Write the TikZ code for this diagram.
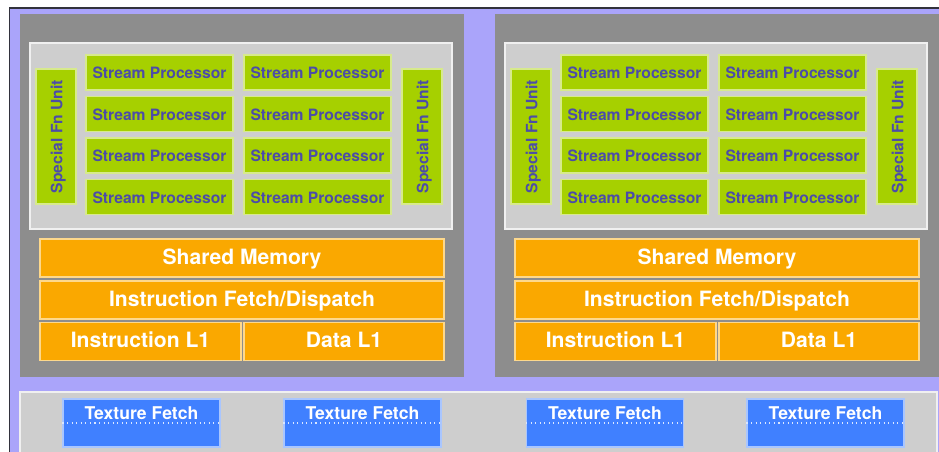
\documentclass[tikz,border=0pt]{standalone}
\usepackage{fontspec}
\setmainfont{TeX Gyre Heros}
\usepackage{xcolor}
\usepackage{tikz}
\usetikzlibrary{positioning}
\definecolor{chipbg}{RGB}{170,164,250}
\definecolor{chipframe}{RGB}{50,50,60}
\definecolor{smgray}{RGB}{141,141,141}
\definecolor{coregray}{RGB}{206,206,206}
\definecolor{spgreen}{RGB}{166,208,0}
\definecolor{sptext}{RGB}{76,76,168}
\definecolor{memorange}{RGB}{250,168,0}
\definecolor{fetchblue}{RGB}{64,128,255}
\tikzset{
  smpanel/.style={fill=smgray,minimum width=8.88cm,minimum height=7.26cm,inner sep=0pt},
  corepanel/.style={fill=coregray,draw=white!70!coregray,line width=0.6pt,minimum width=8.44cm,minimum height=3.72cm,inner sep=0pt},
  spbox/.style={draw=white!55!spgreen,fill=spgreen,line width=0.6pt,text=sptext,font=\bfseries\fontsize{8.9}{10}\selectfont,
    minimum width=2.94cm,minimum height=0.70cm,inner sep=0pt,text height=1.5ex,text depth=0.1ex},
  sfubox/.style={spbox,rotate=90,minimum width=2.70cm,minimum height=0.80cm},
  membox/.style={draw=white!55!memorange,fill=memorange,line width=0.6pt,text=white,font=\bfseries\fontsize{12}{14}\selectfont,
    minimum height=0.76cm,inner sep=0pt,text height=1.5ex,text depth=0.1ex},
  fetchbox/.style={draw=white!55!fetchblue,fill=fetchblue,line width=0.6pt,text=white,font=\bfseries\fontsize{10}{12}\selectfont,
    minimum width=3.14cm,minimum height=0.96cm,inner sep=2pt,text height=7.5pt,text depth=12pt},
  fetchsplit/.style={draw=white!80!fetchblue,dotted,line width=0.6pt},
}
\begin{document}
\begin{tikzpicture}
  \useasboundingbox (0,0) rectangle (18.78,-9.04);
  % chip background and frame
  \fill[chipbg] (0.19,-0.16) rectangle (18.78,-9.04);
  \draw[chipframe,line width=1.1pt] (0.19,-9.04) -- (0.19,-0.16) -- (18.78,-0.16);
  % left multiprocessor
  \node[smpanel]   (sm1)     at (4.84,-3.91) {};
  \node[corepanel] (core1)   at (4.82,-2.72) {};
  \node[sfubox]    (sfu1a)   at (1.12,-2.73) {Special Fn Unit};
  \node[sfubox]    (sfu1b)   at (8.44,-2.73) {Special Fn Unit};
  \node[spbox]     (sp1a)    at (3.19,-1.45) {Stream Processor};
  \node[spbox]     (sp1b)    at (6.35,-1.45) {Stream Processor};
  \node[spbox]     (sp1c)    at (3.19,-2.28) {Stream Processor};
  \node[spbox]     (sp1d)    at (6.35,-2.28) {Stream Processor};
  \node[spbox]     (sp1e)    at (3.19,-3.11) {Stream Processor};
  \node[spbox]     (sp1f)    at (6.35,-3.11) {Stream Processor};
  \node[spbox]     (sp1g)    at (3.19,-3.94) {Stream Processor};
  \node[spbox]     (sp1h)    at (6.35,-3.94) {Stream Processor};
  \node[membox,minimum width=8.08cm] (shmem1) at (4.84,-5.16) {Shared Memory};
  \node[membox,minimum width=8.08cm] (ifd1)   at (4.84,-6.00) {Instruction Fetch/Dispatch};
  \node[membox,minimum width=4.02cm] (il1a)   at (2.81,-6.83) {Instruction L1};
  \node[membox,minimum width=4.00cm] (dl1a)   at (6.88,-6.83) {Data L1};
  % right multiprocessor
  \node[smpanel]   (sm2)     at (14.34,-3.91) {};
  \node[corepanel] (core2)   at (14.32,-2.72) {};
  \node[sfubox]    (sfu2a)   at (10.62,-2.73) {Special Fn Unit};
  \node[sfubox]    (sfu2b)   at (17.94,-2.73) {Special Fn Unit};
  \node[spbox]     (sp2a)    at (12.69,-1.45) {Stream Processor};
  \node[spbox]     (sp2b)    at (15.85,-1.45) {Stream Processor};
  \node[spbox]     (sp2c)    at (12.69,-2.28) {Stream Processor};
  \node[spbox]     (sp2d)    at (15.85,-2.28) {Stream Processor};
  \node[spbox]     (sp2e)    at (12.69,-3.11) {Stream Processor};
  \node[spbox]     (sp2f)    at (15.85,-3.11) {Stream Processor};
  \node[spbox]     (sp2g)    at (12.69,-3.94) {Stream Processor};
  \node[spbox]     (sp2h)    at (15.85,-3.94) {Stream Processor};
  \node[membox,minimum width=8.08cm] (shmem2) at (14.34,-5.16) {Shared Memory};
  \node[membox,minimum width=8.08cm] (ifd2)   at (14.34,-6.00) {Instruction Fetch/Dispatch};
  \node[membox,minimum width=4.02cm] (il1b)   at (12.31,-6.83) {Instruction L1};
  \node[membox,minimum width=4.00cm] (dl1b)   at (16.38,-6.83) {Data L1};
  % texture units along the bottom
  \fill[coregray,draw=white!70!coregray,line width=0.6pt] (0.40,-7.84) rectangle (18.74,-9.30);
  \node[fetchbox] (tex1) at (2.83,-8.46)  {Texture Fetch};
  \node[fetchbox] (tex2) at (7.25,-8.46)  {Texture Fetch};
  \node[fetchbox] (tex3) at (12.10,-8.46) {Texture Fetch};
  \node[fetchbox] (tex4) at (16.51,-8.46) {Texture Fetch};
  \draw[fetchsplit] (tex1.west) -- (tex1.east);
  \draw[fetchsplit] (tex2.west) -- (tex2.east);
  \draw[fetchsplit] (tex3.west) -- (tex3.east);
  \draw[fetchsplit] (tex4.west) -- (tex4.east);
\end{tikzpicture}
\end{document}
